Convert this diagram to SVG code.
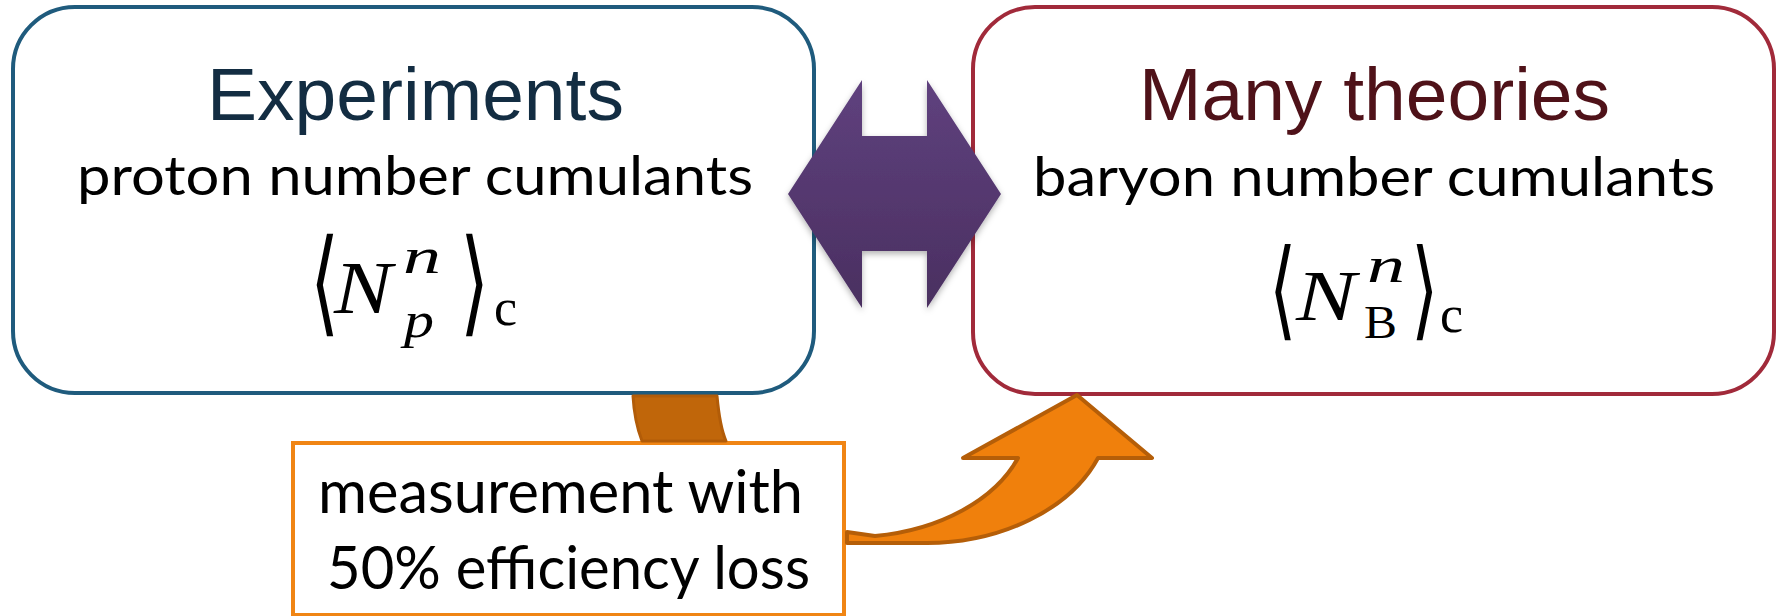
<svg xmlns="http://www.w3.org/2000/svg" width="1781" height="616" viewBox="0 0 1781 616">
<defs>
<linearGradient id="purpleGrad" x1="0" y1="0" x2="0" y2="1">
<stop offset="0" stop-color="#5f417e"/>
<stop offset="1" stop-color="#4a2f60"/>
</linearGradient>
<filter id="shadow" x="-10%" y="-10%" width="120%" height="130%">
<feDropShadow dx="0" dy="3" stdDeviation="3" flood-color="#000" flood-opacity="0.3"/>
</filter>
<style>
.box { fill:#fff; stroke-width:4; }
.title { font-family:"Liberation Sans", Arial, sans-serif; font-size:75px; text-anchor:middle; }
.sub { font-family:Lato, "Open Sans", sans-serif; fill:#000; }
.mi { font-family:"Liberation Serif", "DejaVu Serif", serif; font-style:italic; fill:#000; }
.mr { font-family:"Liberation Serif", "DejaVu Serif", serif; fill:#000; }
.br { font-family:"DejaVu Sans", sans-serif; font-weight:200; fill:#000; }
.tail { fill:#c0660a; stroke:#b25c08; stroke-width:3; stroke-linejoin:round; }
.front { fill:#f0800c; stroke:#b55e08; stroke-width:4; stroke-linejoin:round; }
</style>
</defs>

<g id="node-experiments">
<rect class="box" x="13" y="7" width="801" height="386" rx="62" ry="62" stroke="#1f5b7d"/>
<text class="title" x="415.5" y="120" fill="#132d42">Experiments</text>
<text class="sub" x="77" y="195" font-size="54" textLength="676" lengthAdjust="spacingAndGlyphs">proton number cumulants</text>
<text class="br" transform="translate(310,321) scale(0.65,1)" x="0" y="0" font-size="115">⟨</text>
<text class="mi" x="334" y="313" font-size="74" textLength="58" lengthAdjust="spacingAndGlyphs">N</text>
<text class="mi" x="403" y="273" font-size="51" textLength="38" lengthAdjust="spacingAndGlyphs">n</text>
<text class="mi" x="404" y="337" font-size="50" textLength="30" lengthAdjust="spacingAndGlyphs">p</text>
<text class="br" transform="translate(460,321) scale(0.65,1)" x="0" y="0" font-size="115">⟩</text>
<text class="mr" x="494" y="325" font-size="52">c</text>
</g>

<g id="node-theories">
<rect class="box" x="973" y="7" width="801" height="387" rx="62" ry="62" stroke="#a12a3a"/>
<text class="title" x="1374.5" y="120" fill="#4f1219">Many theories</text>
<text class="sub" x="1033" y="196" font-size="54" textLength="682" lengthAdjust="spacingAndGlyphs">baryon number cumulants</text>
<text class="br" transform="translate(1269,326) scale(0.65,1)" x="0" y="0" font-size="108">⟨</text>
<text class="mi" x="1296" y="320" font-size="72" textLength="60" lengthAdjust="spacingAndGlyphs">N</text>
<text class="mi" x="1367" y="282" font-size="51" textLength="38" lengthAdjust="spacingAndGlyphs">n</text>
<text class="mr" x="1364" y="338" font-size="46" textLength="33" lengthAdjust="spacingAndGlyphs">B</text>
<text class="br" transform="translate(1411,326) scale(0.65,1)" x="0" y="0" font-size="108">⟩</text>
<text class="mr" x="1440" y="332" font-size="52">c</text>
</g>

<g id="node-measurement">
<rect x="293" y="443" width="551" height="172" fill="#fff" stroke="#f08514" stroke-width="4"/>
<text class="sub" x="318" y="513" font-size="60" textLength="485" lengthAdjust="spacingAndGlyphs">measurement with</text>
<text class="sub" x="327" y="589" font-size="60" textLength="483" lengthAdjust="spacingAndGlyphs">50% efficiency loss</text>
</g>

<g id="connectors">
<path id="double-arrow" d="M788,194 L862,80 L862,136 L927,136 L927,80 L1001,194 L927,308 L927,251 L862,251 L862,308 Z" fill="url(#purpleGrad)" filter="url(#shadow)"/>
<path id="curved-arrow-tail" class="tail" d="M633,396 L717,396 C719,418 722,432 726,441 L642,441 C637,428 634,414 633,396 Z"/>
<path id="curved-arrow-head" class="front" d="M847,532 L875,536 C940,530 995,500 1018,458 L963,458 L1077,395 L1152,458 L1098,458 C1070,510 1000,543 927,543 L847,543 Z"/>
</g>
</svg>
